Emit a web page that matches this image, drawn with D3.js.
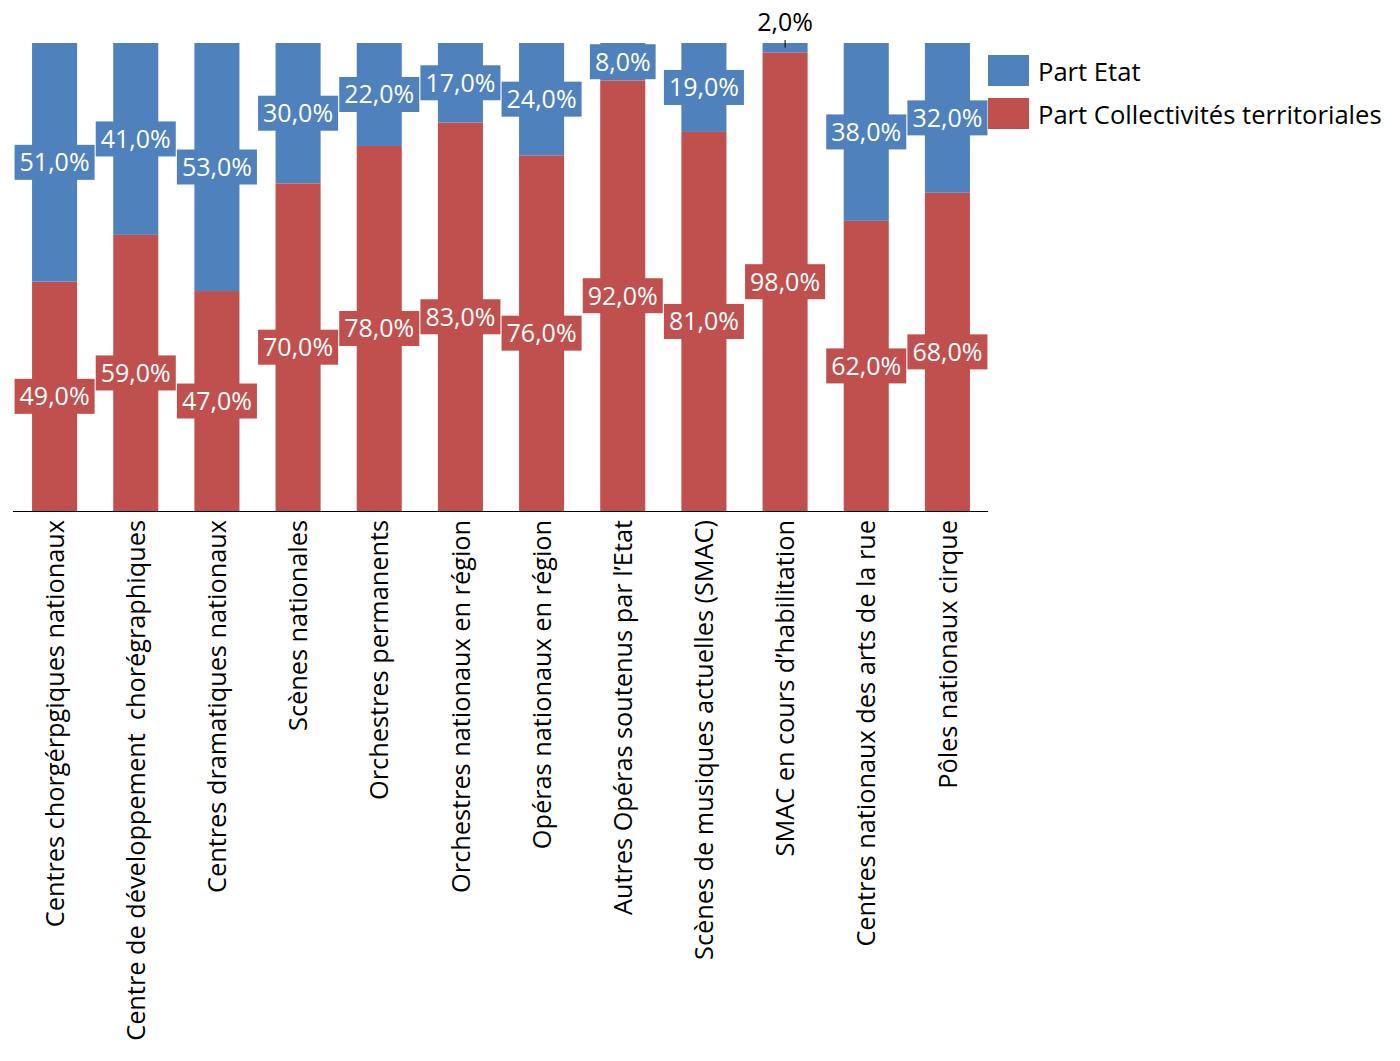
<!DOCTYPE html>
<html>
<head>
<meta charset="utf-8">
<script src="https://cdn.jsdelivr.net/npm/d3@7"></script>
<style>
  body { margin: 0; background: #fff; }
  text { font-family: "Open Sans", sans-serif; }
</style>
</head>
<body>
<div id="chart"></div>
<script>
const categories = [
  "Centres chorgérpgiques nationaux",
  "Centre de développement  chorégraphiques",
  "Centres dramatiques nationaux",
  "Scènes nationales",
  "Orchestres permanents",
  "Orchestres nationaux en région",
  "Opéras nationaux en région",
  "Autres Opéras soutenus par l’Etat",
  "Scènes de musiques actuelles (SMAC)",
  "SMAC en cours d’habilitation",
  "Centres nationaux des arts de la rue",
  "Pôles nationaux cirque"
];
const partCollectivites = [49, 59, 47, 70, 78, 83, 76, 92, 81, 98, 62, 68];
const partEtat = [51, 41, 53, 30, 22, 17, 24, 8, 19, 2, 38, 32];
const seriesNames = ["Part Etat", "Part Collectivités territoriales"];
const seriesColors = ["#4F81BD", "#C0504D"];

document.addEventListener("DOMContentLoaded", () => {
    const width = 1400, height = 1061;
    const plot = { left: 14, right: 988, top: 43, bottom: 511 };

    const svg = d3.select("#chart").append("svg")
        .attr("width", width)
        .attr("height", height);

    const x = d3.scaleBand()
        .domain(categories)
        .range([plot.left, plot.right])
        .paddingInner(0.445)
        .paddingOuter(0.2225);

    const y = d3.scaleLinear().domain([0, 100]).range([plot.bottom, plot.top]);

    const rows = categories.map((c, i) => ({
        cat: c,
        "Part Collectivités territoriales": partCollectivites[i],
        "Part Etat": partEtat[i]
    }));

    // red at the bottom, blue on top
    const stack = d3.stack().keys(["Part Collectivités territoriales", "Part Etat"]);
    const layers = stack(rows);
    const color = d3.scaleOrdinal().domain(seriesNames).range(seriesColors);

    svg.append("g").selectAll("g")
        .data(layers)
        .join("g")
        .attr("fill", d => color(d.key))
        .selectAll("rect")
        .data(d => d)
        .join("rect")
        .attr("x", d => x(d.data.cat))
        .attr("width", x.bandwidth())
        .attr("y", d => y(d[1]))
        .attr("height", d => y(d[0]) - y(d[1]));

    // x axis line
    svg.append("line")
        .attr("x1", plot.left - 1).attr("x2", plot.right)
        .attr("y1", plot.bottom + 0.5).attr("y2", plot.bottom + 0.5)
        .attr("stroke", "#000").attr("stroke-width", 1);

    // category labels
    svg.append("g").selectAll("text")
        .data(categories)
        .join("text")
        .attr("transform", d => "translate(" + (x(d) + x.bandwidth() / 2) + "," + (plot.bottom + 9) + ") rotate(-90)")
        .attr("text-anchor", "end")
        .attr("dy", "0.36em")
        .attr("font-size", 25.3)
        .attr("fill", "#000")
        .style("white-space", "pre")
        .attr("xml:space", "preserve")
        .text(d => d);

    // value labels
    const fmt = v => v.toFixed(1).replace(".", ",") + "%";
    const labelG = svg.append("g");
    layers.forEach(layer => {
        layer.forEach(d => {
            const v = d[1] - d[0];
            const cx = x(d.data.cat) + x.bandwidth() / 2;
            if (v < 5) {
                // small value: outside above with leader line
                labelG.append("line")
                    .attr("x1", cx).attr("x2", cx)
                    .attr("y1", plot.top - 3).attr("y2", y((d[0] + d[1]) / 2))
                    .attr("stroke", "#000").attr("stroke-width", 1);
                labelG.append("text")
                    .attr("x", cx).attr("y", plot.top - 21)
                    .attr("dy", "0.36em")
                    .attr("text-anchor", "middle")
                    .attr("font-size", 25)
                    .attr("fill", "#000")
                    .text(fmt(v));
                return;
            }
            const cy = y((d[0] + d[1]) / 2);
            const g = labelG.append("g");
            const rect = g.append("rect").attr("fill", color(layer.key));
            const t = g.append("text")
                .attr("x", cx).attr("y", cy)
                .attr("dy", "0.36em")
                .attr("text-anchor", "middle")
                .attr("font-size", 25)
                .attr("fill", "#fff")
                .text(fmt(v));
            const w = t.node().getComputedTextLength() + 10;
            rect.attr("x", cx - w / 2).attr("y", cy - 17.5)
                .attr("width", w).attr("height", 35);
        });
    });

    // legend
    const legend = svg.append("g").attr("transform", "translate(988,55)");
    seriesNames.forEach((name, i) => {
        legend.append("rect")
            .attr("x", 0).attr("y", i * 43)
            .attr("width", 41).attr("height", 31)
            .attr("fill", color(name));
        legend.append("text")
            .attr("x", 50).attr("y", i * 43 + 17)
            .attr("dy", "0.36em")
            .attr("font-size", 25.6)
            .attr("fill", "#000")
            .text(name);
    });
});
</script>
</body>
</html>
